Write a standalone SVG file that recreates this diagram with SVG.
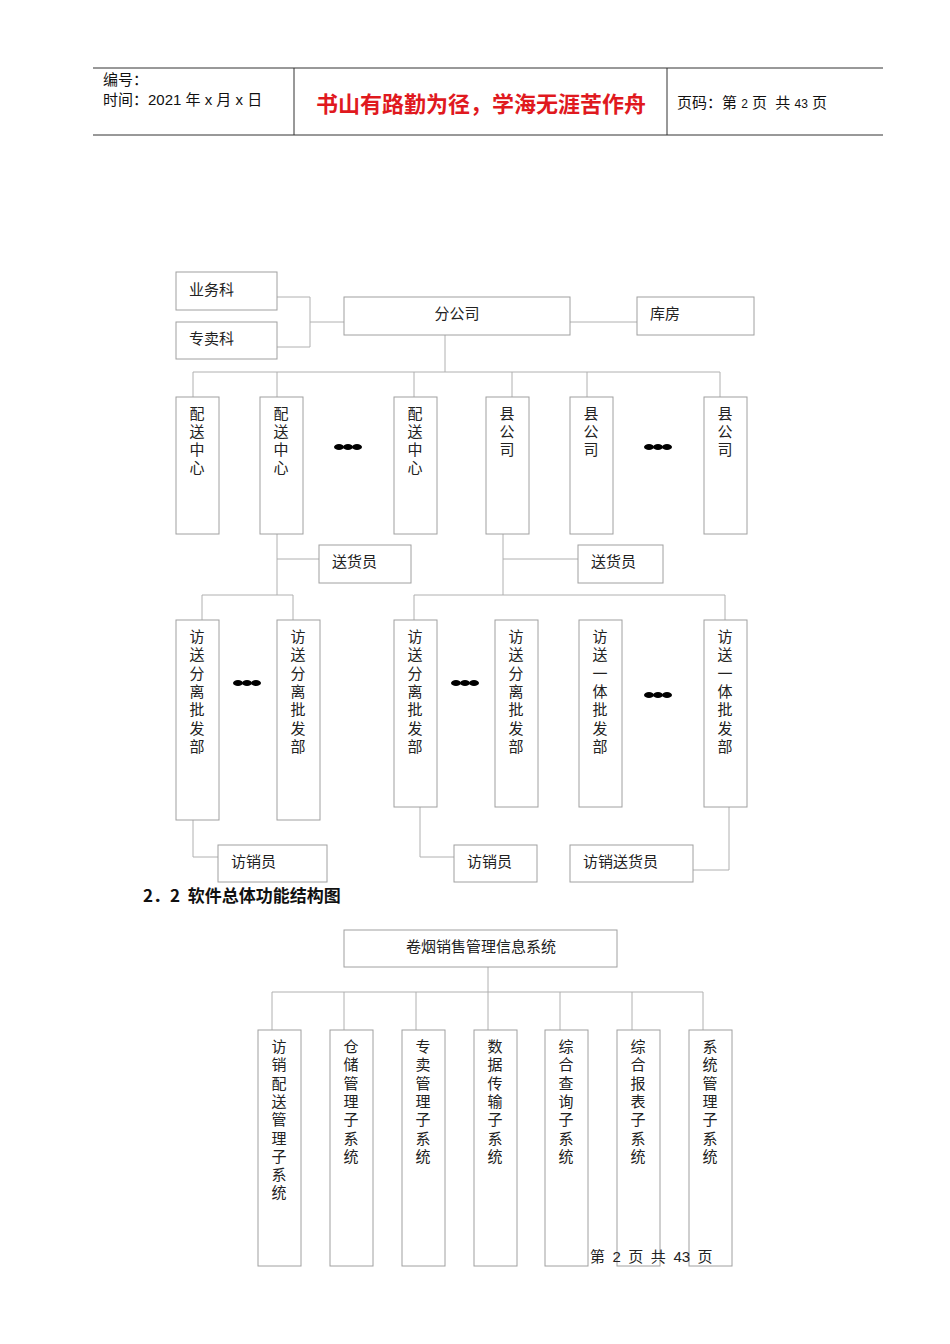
<svg xmlns="http://www.w3.org/2000/svg" width="950" height="1344" viewBox="0 0 950 1344">
<style>
.b{fill:#fff;stroke:#a0a0a0;stroke-width:1}
.l{fill:none;stroke:#b0b0b0;stroke-width:1}
.t{font-family:"Liberation Serif","Noto Sans CJK SC",serif;font-size:15px;fill:#222}
.h{font-family:"Liberation Sans","Noto Sans CJK SC",sans-serif;font-size:15px;fill:#111}
.d{fill:#000}
</style>
<rect width="950" height="1344" fill="#fff"/>
<g id="header">
<line x1="93" y1="68" x2="883" y2="68" stroke="#333"/>
<line x1="93" y1="135" x2="883" y2="135" stroke="#333"/>
<line x1="294" y1="68" x2="294" y2="135" stroke="#333"/>
<line x1="667" y1="68" x2="667" y2="135" stroke="#333"/>
<text class="h" x="103" y="85">编号：</text>
<text class="h" x="103" y="105" xml:space="preserve">时间：2021 年 x 月 x 日</text>
<text x="481" y="112" text-anchor="middle" font-family="'Noto Sans CJK SC',sans-serif" font-size="22" font-weight="bold" fill="#e0191e">书山有路勤为径，学海无涯苦作舟</text>
<text class="h" x="677" y="108" xml:space="preserve">页码：第 <tspan font-size="12">2</tspan> 页  共 <tspan font-size="12">43</tspan> 页</text>
</g>
<g id="connectors">
<path class="l" d="M277 297H310V347H277M310 322H344M570 322H637M445 335V372M193 372H720M193 372V397M277 372V397M414 372V397M512 372V397M587 372V397M720 372V397"/>
<path class="l" d="M277 534V595M277 559H319M503 534V595M503 559H578M202 595H293M202 595V620M293 595V620M414 595H725M414 595V620M725 595V620"/>
<path class="l" d="M193 820V857H218M420 807V857H454M729 807V870H693"/>
<path class="l" d="M488 967V992M272 992H703M272 992V1030M344 992V1030M416 992V1030M488 992V1030M560 992V1030M632 992V1030M703 992V1030"/>
</g>
<g id="n1"><rect class="b" x="176" y="272" width="101" height="38"/><text class="t" x="189" y="295">业务科</text></g>
<g id="n2"><rect class="b" x="176" y="322" width="101" height="37"/><text class="t" x="189" y="344">专卖科</text></g>
<g id="n3"><rect class="b" x="344" y="297" width="226" height="38"/><text class="t" x="457" y="319" text-anchor="middle">分公司</text></g>
<g id="n4"><rect class="b" x="637" y="297" width="117" height="38"/><text class="t" x="650" y="319">库房</text></g>
<g id="n5"><rect class="b" x="176" y="397" width="43" height="137"/><text class="t" x="197" y="419" text-anchor="middle"><tspan x="197">配</tspan><tspan x="197" dy="18">送</tspan><tspan x="197" dy="18">中</tspan><tspan x="197" dy="18">心</tspan></text></g>
<g id="n6"><rect class="b" x="260" y="397" width="43" height="137"/><text class="t" x="281" y="419" text-anchor="middle"><tspan x="281">配</tspan><tspan x="281" dy="18">送</tspan><tspan x="281" dy="18">中</tspan><tspan x="281" dy="18">心</tspan></text></g>
<g id="n7"><rect class="b" x="394" y="397" width="43" height="137"/><text class="t" x="415" y="419" text-anchor="middle"><tspan x="415">配</tspan><tspan x="415" dy="18">送</tspan><tspan x="415" dy="18">中</tspan><tspan x="415" dy="18">心</tspan></text></g>
<g id="n8"><rect class="b" x="486" y="397" width="43" height="137"/><text class="t" x="507" y="419" text-anchor="middle"><tspan x="507">县</tspan><tspan x="507" dy="18">公</tspan><tspan x="507" dy="18">司</tspan></text></g>
<g id="n9"><rect class="b" x="570" y="397" width="43" height="137"/><text class="t" x="591" y="419" text-anchor="middle"><tspan x="591">县</tspan><tspan x="591" dy="18">公</tspan><tspan x="591" dy="18">司</tspan></text></g>
<g id="n10"><rect class="b" x="704" y="397" width="43" height="137"/><text class="t" x="725" y="419" text-anchor="middle"><tspan x="725">县</tspan><tspan x="725" dy="18">公</tspan><tspan x="725" dy="18">司</tspan></text></g>
<g id="dots">
<g class="d"><ellipse cx="339" cy="447" rx="5" ry="3"/><ellipse cx="348" cy="447" rx="5" ry="3"/><ellipse cx="357" cy="447" rx="5" ry="3"/></g>
<g class="d"><ellipse cx="649" cy="447" rx="5" ry="3"/><ellipse cx="658" cy="447" rx="5" ry="3"/><ellipse cx="667" cy="447" rx="5" ry="3"/></g>
<g class="d"><ellipse cx="238" cy="683" rx="5" ry="3"/><ellipse cx="247" cy="683" rx="5" ry="3"/><ellipse cx="256" cy="683" rx="5" ry="3"/></g>
<g class="d"><ellipse cx="456" cy="683" rx="5" ry="3"/><ellipse cx="465" cy="683" rx="5" ry="3"/><ellipse cx="474" cy="683" rx="5" ry="3"/></g>
<g class="d"><ellipse cx="649" cy="695" rx="5" ry="3"/><ellipse cx="658" cy="695" rx="5" ry="3"/><ellipse cx="667" cy="695" rx="5" ry="3"/></g>
</g>
<g id="n11"><rect class="b" x="319" y="545" width="92" height="38"/><text class="t" x="332" y="567">送货员</text></g>
<g id="n12"><rect class="b" x="578" y="545" width="85" height="38"/><text class="t" x="591" y="567">送货员</text></g>
<g id="n13"><rect class="b" x="176" y="620" width="43" height="200"/><text class="t" text-anchor="middle" y="642"><tspan x="197">访</tspan><tspan x="197" dy="18.3">送</tspan><tspan x="197" dy="18.3">分</tspan><tspan x="197" dy="18.3">离</tspan><tspan x="197" dy="18.3">批</tspan><tspan x="197" dy="18.3">发</tspan><tspan x="197" dy="18.3">部</tspan></text></g>
<g id="n14"><rect class="b" x="277" y="620" width="43" height="200"/><text class="t" text-anchor="middle" y="642"><tspan x="298">访</tspan><tspan x="298" dy="18.3">送</tspan><tspan x="298" dy="18.3">分</tspan><tspan x="298" dy="18.3">离</tspan><tspan x="298" dy="18.3">批</tspan><tspan x="298" dy="18.3">发</tspan><tspan x="298" dy="18.3">部</tspan></text></g>
<g id="n15"><rect class="b" x="394" y="620" width="43" height="187"/><text class="t" text-anchor="middle" y="642"><tspan x="415">访</tspan><tspan x="415" dy="18.3">送</tspan><tspan x="415" dy="18.3">分</tspan><tspan x="415" dy="18.3">离</tspan><tspan x="415" dy="18.3">批</tspan><tspan x="415" dy="18.3">发</tspan><tspan x="415" dy="18.3">部</tspan></text></g>
<g id="n16"><rect class="b" x="495" y="620" width="43" height="187"/><text class="t" text-anchor="middle" y="642"><tspan x="516">访</tspan><tspan x="516" dy="18.3">送</tspan><tspan x="516" dy="18.3">分</tspan><tspan x="516" dy="18.3">离</tspan><tspan x="516" dy="18.3">批</tspan><tspan x="516" dy="18.3">发</tspan><tspan x="516" dy="18.3">部</tspan></text></g>
<g id="n17"><rect class="b" x="579" y="620" width="43" height="187"/><text class="t" text-anchor="middle" y="642"><tspan x="600">访</tspan><tspan x="600" dy="18.3">送</tspan><tspan x="600" dy="18.3">一</tspan><tspan x="600" dy="18.3">体</tspan><tspan x="600" dy="18.3">批</tspan><tspan x="600" dy="18.3">发</tspan><tspan x="600" dy="18.3">部</tspan></text></g>
<g id="n18"><rect class="b" x="704" y="620" width="43" height="187"/><text class="t" text-anchor="middle" y="642"><tspan x="725">访</tspan><tspan x="725" dy="18.3">送</tspan><tspan x="725" dy="18.3">一</tspan><tspan x="725" dy="18.3">体</tspan><tspan x="725" dy="18.3">批</tspan><tspan x="725" dy="18.3">发</tspan><tspan x="725" dy="18.3">部</tspan></text></g>
<g id="n19"><rect class="b" x="218" y="845" width="109" height="37"/><text class="t" x="231" y="867">访销员</text></g>
<g id="n20"><rect class="b" x="454" y="845" width="83" height="37"/><text class="t" x="467" y="867">访销员</text></g>
<g id="n21"><rect class="b" x="570" y="845" width="123" height="37"/><text class="t" x="583" y="867">访销送货员</text></g>
<text x="143" y="902" font-family="'Noto Sans CJK SC',sans-serif" font-size="17" font-weight="bold" fill="#111" xml:space="preserve">2．2  软件总体功能结构图</text>
<g id="m0"><rect class="b" x="344" y="930" width="273" height="37"/><text class="t" x="481" y="952" text-anchor="middle">卷烟销售管理信息系统</text></g>
<g id="m1"><rect class="b" x="258" y="1030" width="43" height="236"/><text class="t" text-anchor="middle" y="1052"><tspan x="279">访</tspan><tspan x="279" dy="18.3">销</tspan><tspan x="279" dy="18.3">配</tspan><tspan x="279" dy="18.3">送</tspan><tspan x="279" dy="18.3">管</tspan><tspan x="279" dy="18.3">理</tspan><tspan x="279" dy="18.3">子</tspan><tspan x="279" dy="18.3">系</tspan><tspan x="279" dy="18.3">统</tspan></text></g>
<g id="m2"><rect class="b" x="330" y="1030" width="43" height="236"/><text class="t" text-anchor="middle" y="1052"><tspan x="351">仓</tspan><tspan x="351" dy="18.3">储</tspan><tspan x="351" dy="18.3">管</tspan><tspan x="351" dy="18.3">理</tspan><tspan x="351" dy="18.3">子</tspan><tspan x="351" dy="18.3">系</tspan><tspan x="351" dy="18.3">统</tspan></text></g>
<g id="m3"><rect class="b" x="402" y="1030" width="43" height="236"/><text class="t" text-anchor="middle" y="1052"><tspan x="423">专</tspan><tspan x="423" dy="18.3">卖</tspan><tspan x="423" dy="18.3">管</tspan><tspan x="423" dy="18.3">理</tspan><tspan x="423" dy="18.3">子</tspan><tspan x="423" dy="18.3">系</tspan><tspan x="423" dy="18.3">统</tspan></text></g>
<g id="m4"><rect class="b" x="474" y="1030" width="43" height="236"/><text class="t" text-anchor="middle" y="1052"><tspan x="495">数</tspan><tspan x="495" dy="18.3">据</tspan><tspan x="495" dy="18.3">传</tspan><tspan x="495" dy="18.3">输</tspan><tspan x="495" dy="18.3">子</tspan><tspan x="495" dy="18.3">系</tspan><tspan x="495" dy="18.3">统</tspan></text></g>
<g id="m5"><rect class="b" x="545" y="1030" width="43" height="236"/><text class="t" text-anchor="middle" y="1052"><tspan x="566">综</tspan><tspan x="566" dy="18.3">合</tspan><tspan x="566" dy="18.3">查</tspan><tspan x="566" dy="18.3">询</tspan><tspan x="566" dy="18.3">子</tspan><tspan x="566" dy="18.3">系</tspan><tspan x="566" dy="18.3">统</tspan></text></g>
<g id="m6"><rect class="b" x="617" y="1030" width="43" height="236"/><text class="t" text-anchor="middle" y="1052"><tspan x="638">综</tspan><tspan x="638" dy="18.3">合</tspan><tspan x="638" dy="18.3">报</tspan><tspan x="638" dy="18.3">表</tspan><tspan x="638" dy="18.3">子</tspan><tspan x="638" dy="18.3">系</tspan><tspan x="638" dy="18.3">统</tspan></text></g>
<g id="m7"><rect class="b" x="689" y="1030" width="43" height="236"/><text class="t" text-anchor="middle" y="1052"><tspan x="710">系</tspan><tspan x="710" dy="18.3">统</tspan><tspan x="710" dy="18.3">管</tspan><tspan x="710" dy="18.3">理</tspan><tspan x="710" dy="18.3">子</tspan><tspan x="710" dy="18.3">系</tspan><tspan x="710" dy="18.3">统</tspan></text></g>
<text class="t" x="590" y="1262" font-size="13" xml:space="preserve">第  <tspan font-family="Liberation Sans">2</tspan>  页  共  <tspan font-family="Liberation Sans">43</tspan>  页</text>
</svg>
